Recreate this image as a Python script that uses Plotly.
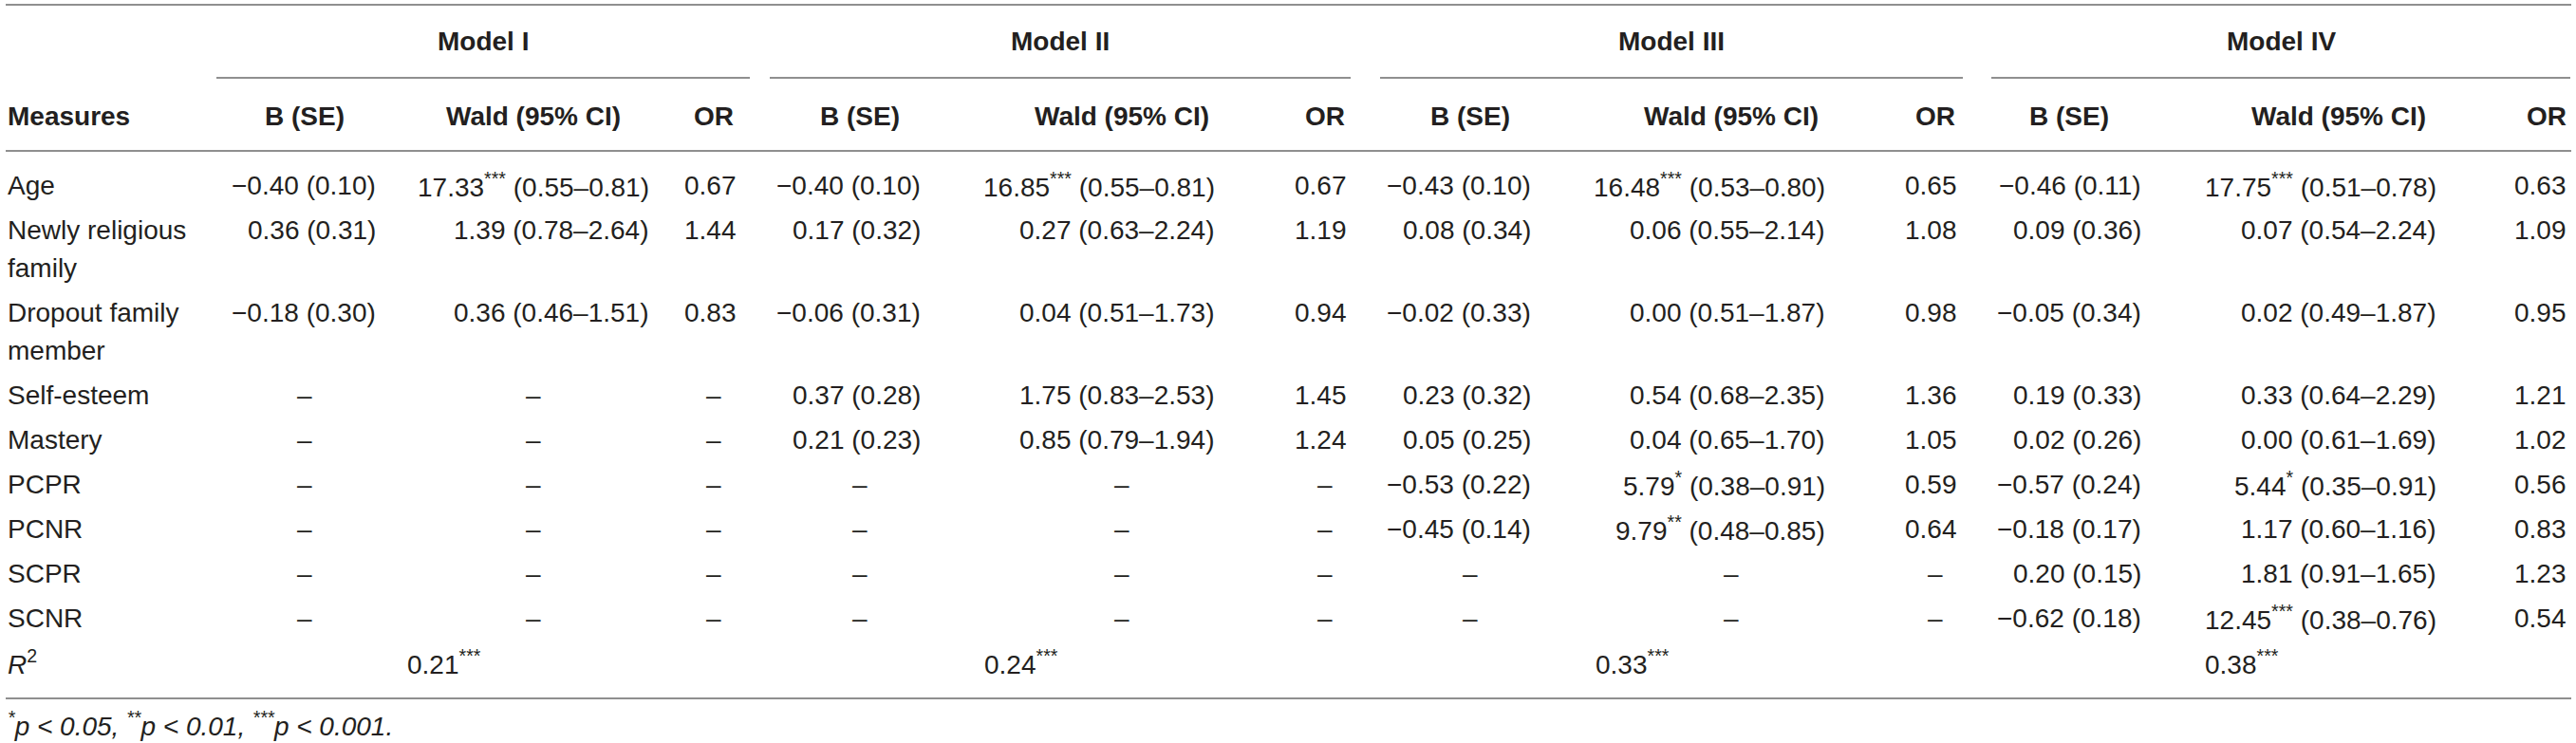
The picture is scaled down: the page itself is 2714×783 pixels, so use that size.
import plotly.graph_objects as go

# ---- data -------------------------------------------------------------
MEASURES = ["Age", "Newly religious\nfamily", "Dropout family\nmember", "Self-esteem",
            "Mastery", "PCPR", "PCNR", "SCPR", "SCNR"]
MODELS = ["Model I", "Model II", "Model III", "Model IV"]
SUBHEADS = ["B (SE)", "Wald (95% CI)", "OR"]

# None = variable not entered in that model
B = [
    [-0.40, 0.36, -0.18, None, None, None, None, None, None],
    [-0.40, 0.17, -0.06, 0.37, 0.21, None, None, None, None],
    [-0.43, 0.08, -0.02, 0.23, 0.05, -0.53, -0.45, None, None],
    [-0.46, 0.09, -0.05, 0.19, 0.02, -0.57, -0.18, 0.20, -0.62],
]
SE = [
    [0.10, 0.31, 0.30],
    [0.10, 0.32, 0.31, 0.28, 0.23],
    [0.10, 0.34, 0.33, 0.32, 0.25, 0.22, 0.14],
    [0.11, 0.36, 0.34, 0.33, 0.26, 0.24, 0.17, 0.15, 0.18],
]
WALD = [
    [17.33, 1.39, 0.36],
    [16.85, 0.27, 0.04, 1.75, 0.85],
    [16.48, 0.06, 0.00, 0.54, 0.04, 5.79, 9.79],
    [17.75, 0.07, 0.02, 0.33, 0.00, 5.44, 1.17, 1.81, 12.45],
]
WALD_SIG = [
    ["***", "", ""],
    ["***", "", "", "", ""],
    ["***", "", "", "", "", "*", "**"],
    ["***", "", "", "", "", "*", "", "", "***"],
]
CI_LO = [
    [0.55, 0.78, 0.46],
    [0.55, 0.63, 0.51, 0.83, 0.79],
    [0.53, 0.55, 0.51, 0.68, 0.65, 0.38, 0.48],
    [0.51, 0.54, 0.49, 0.64, 0.61, 0.35, 0.60, 0.91, 0.38],
]
CI_HI = [
    [0.81, 2.64, 1.51],
    [0.81, 2.24, 1.73, 2.53, 1.94],
    [0.80, 2.14, 1.87, 2.35, 1.70, 0.91, 0.85],
    [0.78, 2.24, 1.87, 2.29, 1.69, 0.91, 1.16, 1.65, 0.76],
]
OR = [
    [0.67, 1.44, 0.83],
    [0.67, 1.19, 0.94, 1.45, 1.24],
    [0.65, 1.08, 0.98, 1.36, 1.05, 0.59, 0.64],
    [0.63, 1.09, 0.95, 1.21, 1.02, 0.56, 0.83, 1.23, 0.54],
]
R2 = [0.21, 0.24, 0.33, 0.38]
R2_SIG = ["***", "***", "***", "***"]
FOOTNOTE = "<i><sup>*</sup>p < 0.05, <sup>**</sup>p < 0.01, <sup>***</sup>p < 0.001.</i>"

# ---- layout (pixel grid of the page) ---------------------------------
W, H = 2714, 783
FONT = "Liberation Sans, Arial, Helvetica, sans-serif"
FS = 28
INK = "#231f20"
RULE = "#8f8f8f"

# per model: (center, right) for B, Wald, OR columns, and the header span
COLS = [
    dict(b=(321, 398), w=(562, 686), o=(752, 778), span=(228, 790)),
    dict(b=(906, 972), w=(1182, 1282), o=(1396, 1421), span=(811, 1423)),
    dict(b=(1549, 1615), w=(1824, 1925), o=(2039, 2064), span=(1454, 2068)),
    dict(b=(2180, 2258), w=(2464, 2569), o=(2683, 2706), span=(2098, 2708)),
]
LEFT = 6
Y_TOP, Y_MODEL, Y_UNDER, Y_HEAD, Y_RULE = 5, 43, 82, 122, 159
Y_FIRST, PITCH, LINE = 195, 47, 40


def num(v):
    s = f"{v:.2f}"
    return s.replace("-", "\u2212")


fig = go.Figure()
ann = []


def text(x, y, s, anchor="right", bold=False, size=FS):
    if bold:
        s = f"<b>{s}</b>"
    ann.append(dict(x=x, y=y, xref="x", yref="y", text=s, showarrow=False,
                    xanchor=anchor, yanchor="middle",
                    font=dict(family=FONT, size=size, color=INK)))


shapes = []


def rule(x0, x1, y):
    shapes.append(dict(type="line", xref="x", yref="y", x0=x0, x1=x1, y0=y, y1=y,
                       line=dict(color=RULE, width=2)))


rule(LEFT, 2709, Y_TOP)
rule(LEFT, 2709, Y_RULE)

text(LEFT, Y_HEAD, "Measures", anchor="left", bold=True)
for m, name in enumerate(MODELS):
    c = COLS[m]
    x0, x1 = c["span"]
    text((x0 + x1) / 2, Y_MODEL, name, anchor="center", bold=True)
    rule(x0, x1, Y_UNDER)
    for key, sub in zip(("b", "w", "o"), SUBHEADS):
        text(c[key][0], Y_HEAD, sub, anchor="center", bold=True)

# body rows
y = Y_FIRST
for i, label in enumerate(MEASURES):
    lines = label.split("\n")
    for k, ln in enumerate(lines):
        text(LEFT, y + k * LINE, ln, anchor="left")
    for m in range(len(MODELS)):
        c = COLS[m]
        if B[m][i] is None:
            for key in ("b", "w", "o"):
                text(c[key][0], y, "\u2013", anchor="center")
            continue
        text(c["b"][1], y, f"{num(B[m][i])} ({num(SE[m][i])})")
        sig = WALD_SIG[m][i]
        sig = f"<sup>{sig}</sup>" if sig else ""
        text(c["w"][1], y,
             f"{num(WALD[m][i])}{sig} ({num(CI_LO[m][i])}\u2013{num(CI_HI[m][i])})")
        text(c["o"][1], y, num(OR[m][i]))
    y += (len(lines) - 1) * LINE + PITCH

# R squared row
text(LEFT, y, "<i>R</i><sup>2</sup>", anchor="left")
for m in range(len(MODELS)):
    x0, x1 = COLS[m]["span"]
    text((x0 + x1) / 2, y, f"{num(R2[m])}<sup>{R2_SIG[m]}</sup>")
y_bottom = y + 38
rule(LEFT, 2709, y_bottom)
text(LEFT, y_bottom + 27, FOOTNOTE, anchor="left")

fig.update_layout(
    width=W, height=H,
    margin=dict(l=0, r=0, t=0, b=0),
    plot_bgcolor="white", paper_bgcolor="white",
    xaxis=dict(range=[0, W], visible=False, fixedrange=True),
    yaxis=dict(range=[H, 0], visible=False, fixedrange=True),
    annotations=ann, shapes=shapes,
    showlegend=False,
)
# page body margin would push the figure past the window edges
fig.write_html("out.html", config={"displayModeBar": False},
               post_script="document.body.style.margin='0';document.body.style.overflow='hidden';")
